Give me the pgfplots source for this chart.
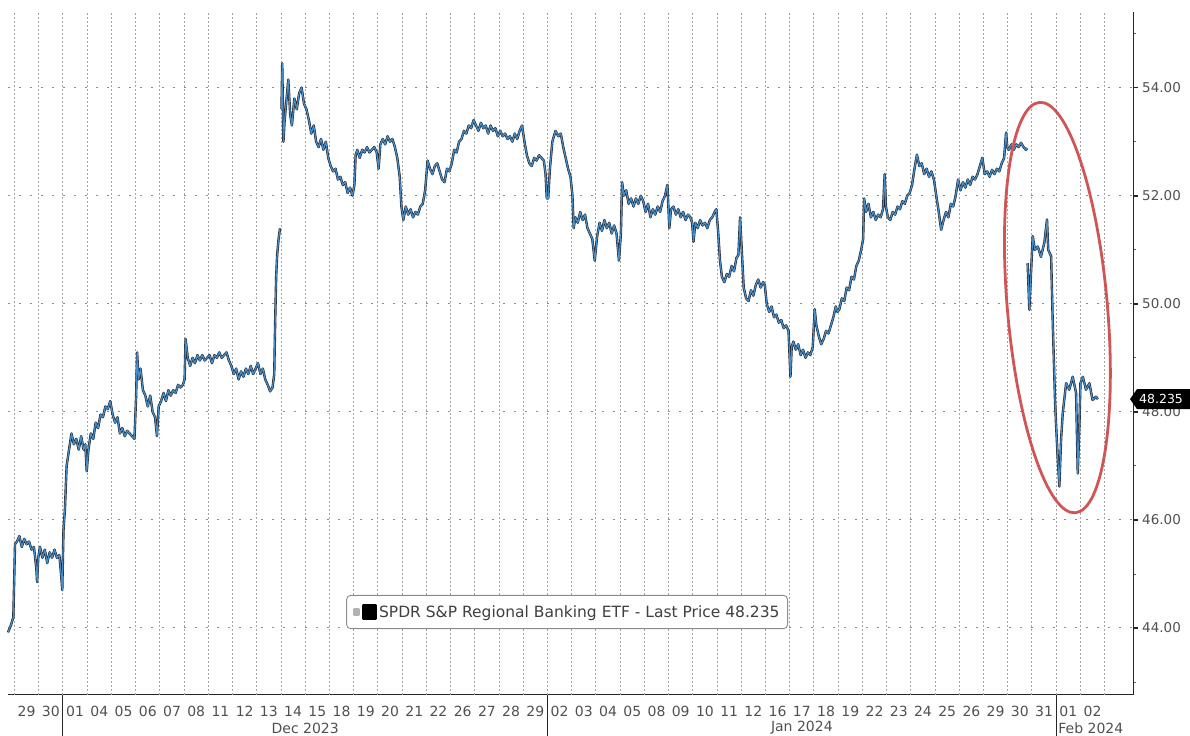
\documentclass[border=0pt]{standalone}
\usepackage{fontspec}
\setmainfont{DejaVu Sans}
\usepackage{pgfplots}
\usepackage{pgfplotstable}
\pgfplotsset{compat=1.18}
\definecolor{dark}{RGB}{30,38,54}
\definecolor{steel}{RGB}{72,142,198}
\definecolor{gridc}{RGB}{165,165,165}
\definecolor{lbl}{RGB}{80,80,80}
\definecolor{ring}{RGB}{208,86,86}

\pgfplotstableread{
x y
-0.27 43.92
-0.15 44.05
-0.05 44.20
0.02 45.55
0.10 45.60
0.20 45.70
0.30 45.50
0.40 45.65
0.50 45.55
0.60 45.60
0.70 45.45
0.80 45.50
0.90 45.10
0.93 44.85
0.98 45.30
1.05 45.50
1.15 45.30
1.25 45.45
1.35 45.20
1.45 45.40
1.55 45.30
1.65 45.45
1.75 45.30
1.85 45.35
1.92 45.00
1.97 44.70
2.02 45.80
2.08 46.20
2.15 47.00
2.25 47.30
2.35 47.60
2.45 47.40
2.55 47.50
2.65 47.30
2.75 47.55
2.85 47.30
2.92 47.40
2.98 46.90
3.05 47.30
3.15 47.60
3.25 47.50
3.35 47.80
3.45 47.70
3.55 47.95
3.65 47.90
3.75 48.10
3.85 48.05
3.95 48.20
4.05 47.95
4.15 47.80
4.25 47.90
4.35 47.60
4.45 47.70
4.55 47.55
4.65 47.65
4.75 47.60
4.85 47.55
4.95 47.50
5.02 48.30
5.06 49.10
5.12 48.60
5.20 48.80
5.30 48.40
5.40 48.30
5.50 48.10
5.60 48.30
5.70 48.00
5.80 47.90
5.88 47.55
5.95 48.10
6.05 48.20
6.15 48.35
6.25 48.20
6.35 48.40
6.45 48.30
6.55 48.40
6.65 48.35
6.75 48.50
6.85 48.45
6.95 48.50
7.02 48.60
7.06 49.35
7.15 49.00
7.25 48.85
7.35 49.00
7.45 48.90
7.55 49.05
7.65 48.95
7.75 49.05
7.85 48.95
7.95 49.00
8.05 49.05
8.15 48.90
8.25 49.05
8.35 49.00
8.45 49.10
8.55 49.00
8.65 49.05
8.75 49.10
8.85 48.95
8.95 48.85
9.05 48.70
9.15 48.80
9.25 48.60
9.35 48.75
9.45 48.65
9.55 48.80
9.65 48.70
9.75 48.85
9.85 48.70
9.95 48.80
10.05 48.90
10.15 48.70
10.25 48.80
10.35 48.60
10.45 48.50
10.55 48.38
10.65 48.45
10.72 48.70
10.76 49.70
10.80 50.50
10.84 50.90
10.90 51.20
10.96 51.40
10.99 nan
11.02 53.60
11.05 54.45
11.10 53.00
11.15 53.40
11.25 53.90
11.30 54.15
11.38 53.50
11.45 53.30
11.55 53.80
11.65 53.60
11.75 53.90
11.85 54.00
11.95 53.70
12.05 53.60
12.15 53.40
12.25 53.15
12.35 53.30
12.45 53.00
12.55 52.90
12.65 53.05
12.75 52.85
12.85 53.00
12.95 52.70
13.05 52.55
13.15 52.45
13.25 52.50
13.35 52.30
13.45 52.35
13.55 52.20
13.65 52.25
13.75 52.05
13.85 52.15
13.95 52.00
14.03 52.20
14.08 52.75
14.15 52.85
14.25 52.70
14.35 52.85
14.45 52.80
14.55 52.90
14.65 52.80
14.75 52.85
14.85 52.90
14.95 52.80
15.03 52.50
15.10 52.95
15.20 53.05
15.30 52.95
15.40 53.10
15.50 53.00
15.60 53.05
15.70 52.90
15.80 52.70
15.90 52.35
15.97 51.80
16.05 51.55
16.15 51.80
16.25 51.65
16.35 51.75
16.45 51.60
16.55 51.70
16.65 51.65
16.75 51.80
16.85 51.85
16.95 52.10
17.05 52.65
17.15 52.50
17.25 52.40
17.35 52.55
17.45 52.60
17.55 52.45
17.65 52.30
17.75 52.25
17.85 52.50
17.95 52.45
18.05 52.60
18.15 52.85
18.25 52.80
18.35 53.00
18.45 53.05
18.55 53.20
18.65 53.15
18.75 53.30
18.85 53.25
18.95 53.40
19.05 53.30
19.15 53.20
19.25 53.35
19.35 53.25
19.45 53.30
19.55 53.15
19.65 53.30
19.75 53.20
19.85 53.25
19.95 53.10
20.05 53.20
20.15 53.10
20.25 53.15
20.35 53.05
20.45 53.10
20.55 53.00
20.65 53.15
20.75 53.05
20.85 53.20
20.95 53.30
21.05 53.00
21.15 52.75
21.25 52.60
21.35 52.55
21.45 52.70
21.55 52.65
21.65 52.75
21.75 52.70
21.85 52.65
21.92 52.40
21.97 51.95
22.03 51.95
22.10 52.50
22.20 53.00
22.33 53.20
22.45 53.10
22.55 53.15
22.65 52.90
22.75 52.70
22.85 52.50
22.95 52.35
23.03 52.00
23.08 51.40
23.15 51.60
23.25 51.50
23.35 51.70
23.45 51.55
23.55 51.65
23.65 51.40
23.75 51.30
23.85 51.20
23.95 50.80
24.05 51.25
24.15 51.50
24.25 51.35
24.35 51.55
24.45 51.40
24.55 51.50
24.65 51.30
24.75 51.45
24.85 51.30
24.95 50.80
25.03 51.30
25.08 52.25
25.15 52.00
25.25 52.10
25.35 51.85
25.45 51.95
25.55 51.80
25.65 51.95
25.75 51.85
25.85 52.00
25.95 51.90
26.05 51.70
26.15 51.85
26.25 51.60
26.35 51.75
26.45 51.65
26.55 51.80
26.65 51.70
26.75 51.90
26.85 52.00
26.95 52.20
27.03 51.40
27.10 51.75
27.20 51.80
27.30 51.65
27.40 51.75
27.50 51.60
27.60 51.70
27.70 51.55
27.80 51.65
27.90 51.60
27.97 51.50
28.03 51.15
28.10 51.50
28.20 51.40
28.30 51.55
28.40 51.45
28.50 51.50
28.60 51.40
28.70 51.55
28.80 51.60
28.90 51.70
28.97 51.75
29.05 51.30
29.12 50.80
29.20 50.50
29.30 50.40
29.40 50.55
29.50 50.50
29.60 50.70
29.70 50.60
29.80 50.85
29.88 50.90
29.95 51.60
30.03 50.90
30.10 50.30
30.20 50.10
30.30 50.05
30.40 50.25
30.50 50.15
30.60 50.35
30.70 50.45
30.80 50.30
30.90 50.40
30.97 50.35
31.05 50.00
31.15 49.85
31.25 49.95
31.35 49.75
31.45 49.80
31.55 49.65
31.65 49.70
31.75 49.55
31.85 49.60
31.95 49.50
32.03 48.65
32.08 49.20
32.15 49.30
32.25 49.15
32.35 49.25
32.45 49.05
32.55 49.15
32.65 49.00
32.75 49.10
32.85 49.05
32.95 49.20
33.03 49.90
33.10 49.60
33.20 49.40
33.30 49.25
33.40 49.35
33.50 49.50
33.60 49.45
33.70 49.60
33.80 49.75
33.90 49.95
33.97 49.85
34.05 49.90
34.15 50.10
34.25 50.05
34.35 50.30
34.45 50.25
34.55 50.50
34.65 50.45
34.75 50.70
34.85 50.80
34.95 51.00
35.03 51.20
35.07 51.95
35.15 51.70
35.25 51.85
35.35 51.60
35.45 51.70
35.55 51.55
35.65 51.65
35.75 51.60
35.85 51.75
35.92 52.40
35.97 51.80
36.05 51.60
36.15 51.55
36.25 51.70
36.35 51.65
36.45 51.80
36.55 51.75
36.65 51.90
36.75 51.85
36.85 52.00
36.95 52.05
37.05 52.20
37.15 52.50
37.25 52.76
37.35 52.55
37.45 52.60
37.55 52.40
37.65 52.50
37.75 52.35
37.85 52.45
37.95 52.30
38.05 52.00
38.15 51.70
38.25 51.37
38.35 51.55
38.45 51.70
38.55 51.60
38.65 51.85
38.75 51.80
38.85 52.00
38.95 52.30
39.05 52.10
39.15 52.25
39.25 52.15
39.35 52.30
39.45 52.20
39.55 52.35
39.65 52.30
39.75 52.40
39.85 52.55
39.95 52.70
40.05 52.40
40.15 52.45
40.25 52.35
40.35 52.48
40.45 52.40
40.55 52.50
40.65 52.45
40.75 52.60
40.85 52.70
40.93 53.17
40.98 52.90
41.05 52.85
41.15 52.95
41.25 52.85
41.35 52.95
41.45 52.90
41.55 52.98
41.65 52.90
41.75 52.85
41.80 52.88
41.81 nan
41.82 50.75
41.89 49.89
42.03 51.25
42.12 51.00
42.24 51.06
42.37 50.87
42.51 51.13
42.62 51.56
42.67 51.00
42.79 50.88
42.85 49.77
42.90 49.00
42.95 48.22
42.99 47.80
43.06 47.17
43.13 46.62
43.20 47.48
43.27 47.98
43.41 48.53
43.54 48.41
43.68 48.65
43.82 48.35
43.89 46.86
43.96 47.80
44.00 48.53
44.10 48.65
44.23 48.41
44.37 48.53
44.50 48.22
44.64 48.28
44.72 48.235
}\price

\begin{document}
\begin{tikzpicture}
\begin{axis}[
  scale only axis, width=1125pt, height=683pt,
  xmin=-0.27, xmax=46.17, ymin=42.76, ymax=55.4,
  axis x line*=bottom, axis y line*=right,
  axis line style={black!85, line width=1pt},
  clip=false,
  unbounded coords=jump,
  /pgf/number format/assume math mode=true,
  tick label style={text=lbl},
  xtick={0.5,1.5,...,44.5},
  xticklabels={29,30,01,04,05,06,07,08,11,12,13,14,15,18,19,20,21,22,26,27,28,29,02,03,04,05,08,09,10,11,12,16,17,18,19,22,23,24,25,26,29,30,31,01,02},
  xtick style={draw=none},
  xticklabel style={inner sep=0pt, yshift=-6pt, font=\fontsize{14}{16}\selectfont},
  extra x ticks={0,1,...,45},
  extra x tick labels={},
  extra x tick style={xmajorgrids=true, xtick style={draw=none},
    major grid style={gridc, line width=1pt, dash pattern=on 1.5pt off 2.5pt}},
  ytick={44,46,...,54},
  minor ytick={43,45,...,55},
  ymajorgrids=true,
  major grid style={black!45, line width=1pt, dash pattern=on 2pt off 9pt},
  ytick style={black!85, line width=1.6pt},
  minor y tick style={black!60, line width=0.8pt},
  major tick length=5pt, minor tick length=3pt,
  tick align=outside,
  yticklabel pos=right,
  yticklabel style={inner sep=0pt, xshift=4pt, anchor=west, font=\fontsize{13.5}{15}\selectfont,
    /pgf/number format/.cd, fixed, fixed zerofill, precision=2},
  legend style={at={(0.497,0.1215)}, anchor=center, draw=black!45,
    line width=0.9pt, rounded corners=4pt, fill=white,
    font=\fontsize{15.5}{18}\selectfont, text=black!75,
    inner xsep=6pt, inner ysep=8pt},
  legend image code/.code={
    \fill[black!30, sharp corners] (0pt,-2.5pt) rectangle (5pt,2.5pt);
    \fill[black, sharp corners] (9pt,-6.5pt) rectangle (22pt,6.5pt);},
]
\addplot[dark, line width=2.4pt, line join=round] table[x=x,y=y]{\price};
\addlegendentry{SPDR S\&P Regional Banking ETF - Last Price 48.235}
\addplot[steel, line width=1.2pt, line join=round, forget plot] table[x=x,y=y]{\price};

\coordinate (SW) at (axis cs:-0.27,42.76);
\coordinate (NE) at (axis cs:46.17,55.4);
\coordinate (T) at (axis cs:46.17,48.235);
\coordinate (E) at (axis cs:43.05,49.93);
\coordinate (M1) at (axis cs:2,42.76);
\coordinate (M2) at (axis cs:22,42.76);
\coordinate (M3) at (axis cs:43,42.76);
\node[font=\fontsize{14}{16}\selectfont, text=lbl, inner sep=0pt] at ([yshift=-33pt]axis cs:12,42.76) {Dec 2023};
\node[font=\fontsize{14}{16}\selectfont, text=lbl, inner sep=0pt] at ([yshift=-33pt]axis cs:32.5,42.76) {Jan 2024};
\node[font=\fontsize{14}{16}\selectfont, text=lbl, inner sep=0pt, anchor=west] at ([yshift=-33pt, xshift=2pt]axis cs:43,42.76) {Feb 2024};
\end{axis}
\draw[black!85, line width=1pt] (M1) -- ++(0,-41pt);
\draw[black!85, line width=1pt] (M2) -- ++(0,-41pt);
\draw[black!85, line width=1pt] (M3) -- ++(0,-41pt);
\draw[ring, line width=2.8pt, rotate around={5:(E)}] (E) ellipse [x radius=50pt, y radius=206pt];
\fill[black] ([xshift=-3pt]T) -- ++(7pt,10pt) -- ++(53pt,0) -- ++(0,-20pt) -- ++(-53pt,0) -- cycle;
\node[text=white, font=\fontsize{12.5}{14}\selectfont, anchor=west, inner sep=0pt] at ([xshift=6pt]T) {48.235};
\pgfresetboundingbox
\path[use as bounding box] ([shift={(-8pt,-41pt)}]SW) rectangle ([shift={(57pt,12pt)}]NE);
\end{tikzpicture}
\end{document}
